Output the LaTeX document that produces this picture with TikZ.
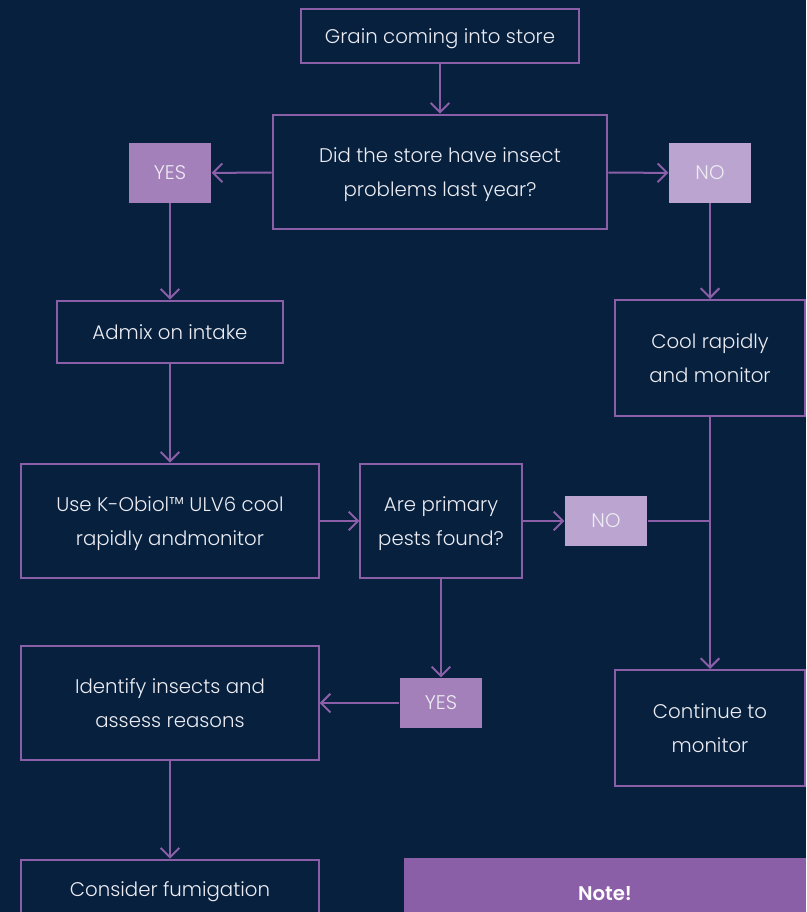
\documentclass[tikz,border=0pt]{standalone}
\usepackage{fontspec}
\setmainfont{Poppins}[UprightFont=* Light,BoldFont=* SemiBold]
\usetikzlibrary{arrows.meta}
\definecolor{navy}{RGB}{6,32,62}
\definecolor{violet_line}{RGB}{139,95,168}
\definecolor{yes_fill}{RGB}{164,128,187}
\definecolor{no_fill}{RGB}{187,165,208}
\definecolor{note_fill}{RGB}{139,95,168}
\definecolor{soft_white}{RGB}{236,236,242}

\tikzset{
	box/.style={rectangle,draw=violet_line,line width=1.5pt,fill=navy,text=soft_white,
		align=center,font=\fontsize{14.8}{25}\selectfont,inner sep=0pt,text depth=0pt},
	yesbox/.style={rectangle,fill=yes_fill,text=soft_white,minimum width=62pt,
		font=\fontsize{14.8}{25}\selectfont,inner sep=0pt},
	nobox/.style={yesbox,fill=no_fill},
	link/.style={violet_line,line width=1.5pt,-{Straight Barb[length=7pt,width=14pt]}}
}

\begin{document}
\begin{tikzpicture}[x=0.75pt,y=-0.75pt]
	\fill[navy] (0,0) rectangle (806,912);
	\useasboundingbox (0,0) rectangle (806,912);
	\clip (0,0) rectangle (806,912);

	\node[box,minimum width=208pt,minimum height=41pt] (grain) at (440,36) {Grain coming into store};
	\node[box,minimum width=251pt,minimum height=86pt] (did) at (440,172) {Did the store have insect\\problems last year?};
	\node[yesbox,minimum height=45pt] (yes1) at (170,173) {YES};
	\node[nobox,minimum height=45pt] (no1) at (710,173) {NO};
	\node[box,minimum width=169pt,minimum height=47pt] (admix) at (170,332) {Admix on intake};
	\node[box,minimum width=142pt,minimum height=87pt] (cool) at (710,358) {Cool rapidly\\and monitor};
	\node[box,minimum width=223pt,minimum height=86pt] (use) at (170,521) {Use K-Obiol™ ULV6 cool\\rapidly andmonitor};
	\node[box,minimum width=121pt,minimum height=86pt] (are) at (441,521) {Are primary\\pests found?};
	\node[nobox,minimum height=38pt] (no2) at (606,521) {NO};
	\node[box,minimum width=223pt,minimum height=86pt] (identify) at (170,703) {Identify insects and\\assess reasons};
	\node[yesbox,minimum height=38pt] (yes2) at (441,703) {YES};
	\node[box,minimum width=142pt,minimum height=87pt] (continue) at (710,728) {Continue to\\monitor};
	\node[box,minimum width=223pt,minimum height=86pt] (consider) at (170,917) {};
	\node[text=soft_white,font=\fontsize{14.8}{25}\selectfont,text depth=0pt] (considertext) at (170,889) {Consider fumigation};
	\fill[note_fill] (404,858) rectangle (806,1000);
	\node[text=white,font=\fontsize{14.8}{25}\selectfont\bfseries] (note) at (605,894) {Note!};
	\coordinate (join) at (710,521);

	\foreach \a/\b in {grain/did,did/yes1,did/no1,yes1/admix,no1/cool,admix/use,use/are,are/no2,are/yes2,yes2/identify,identify/consider}
		\draw[link] (\a) -- (\b);
	\draw[violet_line,line width=1.5pt] (no2) -- (join);
	\draw[link] (cool) -- (continue);
\end{tikzpicture}
\end{document}
